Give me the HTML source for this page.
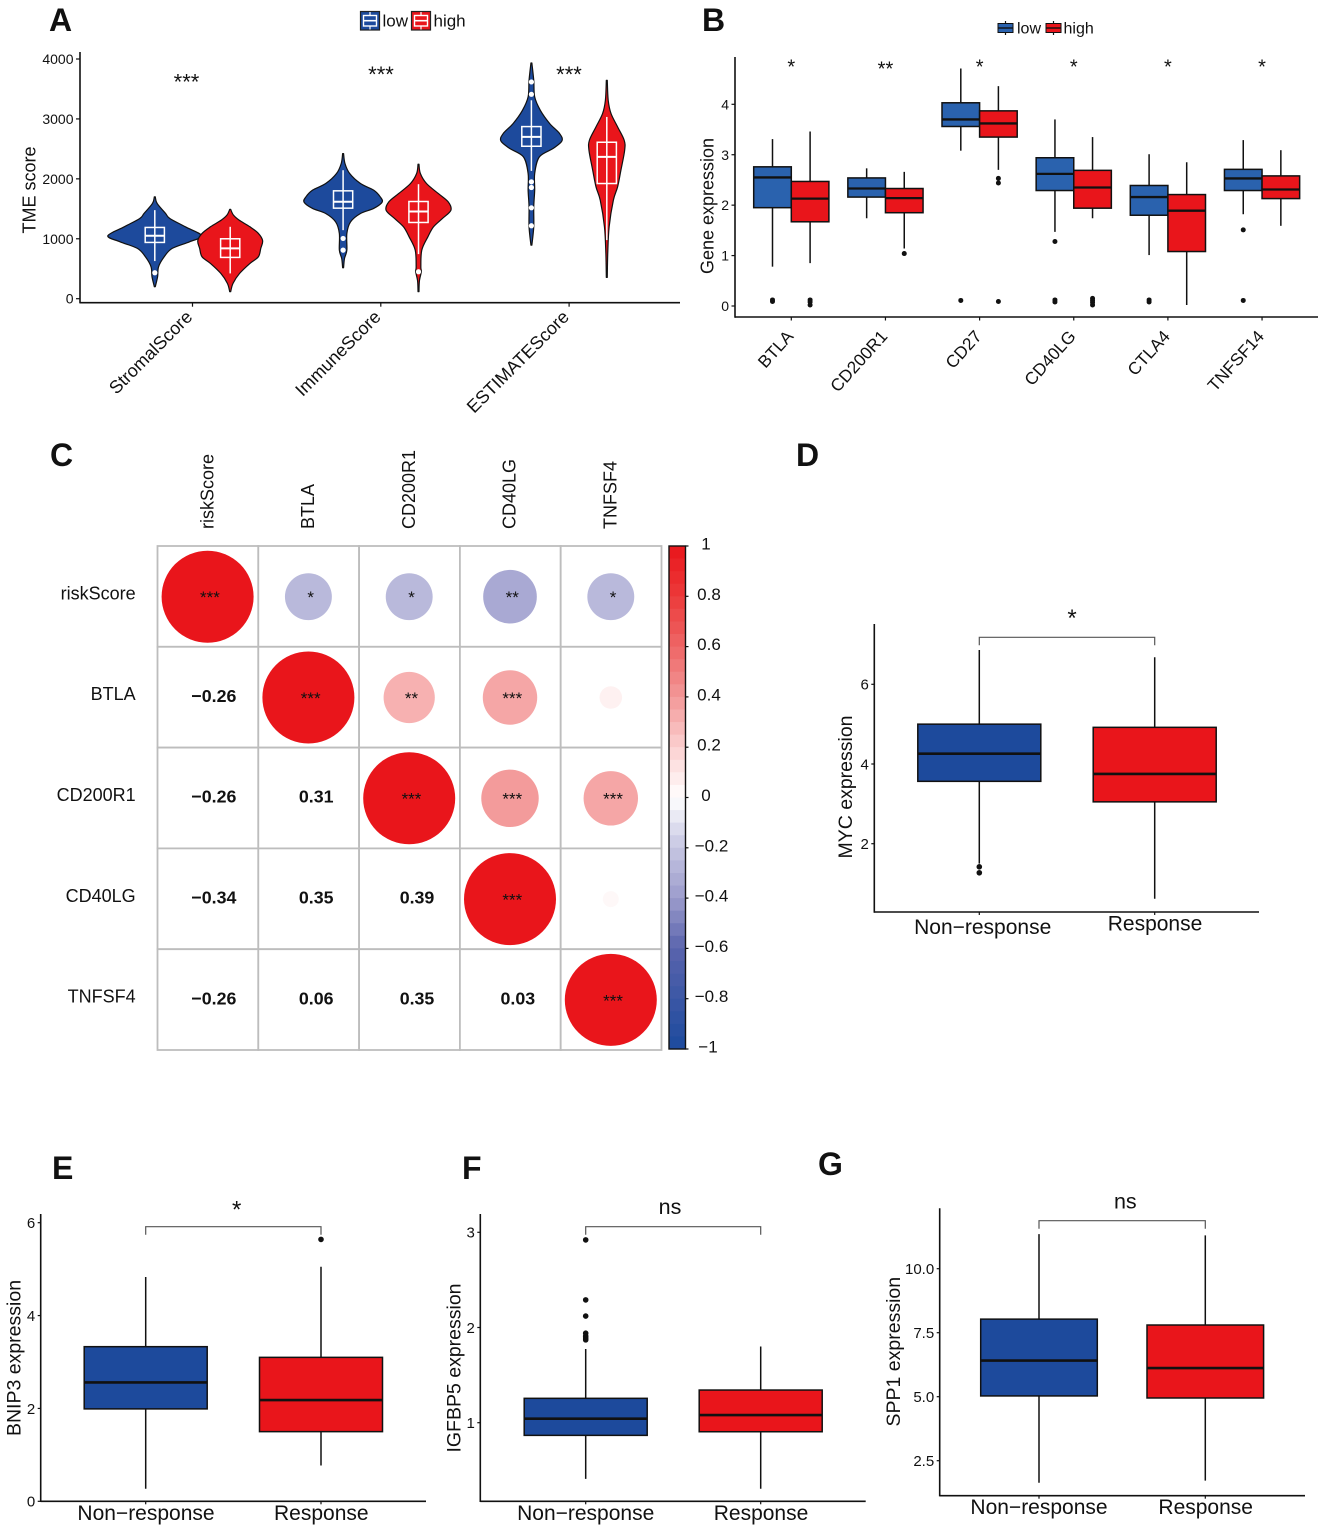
<!DOCTYPE html>
<html lang="en">
<head>
<meta charset="utf-8">
<title>Multi-panel expression figure</title>
<style>
html,body{margin:0;padding:0;background:#fff;}
svg{display:block;font-family:"Liberation Sans",Arial,sans-serif;}
text{fill:#111;}
</style>
</head>
<body>
<svg id="figure" xmlns="http://www.w3.org/2000/svg" width="1325" height="1531" viewBox="0 0 1325 1531">
  <rect width="1325" height="1531" fill="#fff"/>
  <g id="panel-a"></g>
  <g id="panel-b"></g>
  <g id="panel-c"></g>
  <g id="panel-d"></g>
  <g id="panel-e"></g>
  <g id="panel-f"></g>
  <g id="panel-g"></g>
  <text x="49" y="31" font-size="32" font-weight="700">A</text>
  <text x="702" y="31" font-size="32" font-weight="700">B</text>
  <text x="50" y="466" font-size="32" font-weight="700">C</text>
  <text x="796" y="466" font-size="32" font-weight="700">D</text>
  <text x="52" y="1179" font-size="32" font-weight="700">E</text>
  <text x="462" y="1179" font-size="32" font-weight="700">F</text>
  <text x="818" y="1175" font-size="32" font-weight="700">G</text>
</svg>
<script>
/* ---------- Panel A data ---------- */
const tmeCategories = ["StromalScore", "ImmuneScore", "ESTIMATEScore"];
const tmeSignificance = ["***", "***", "***"];
const tmeTicks = [0, 1000, 2000, 3000, 4000];
const tmeTickLabels = ["0", "1000", "2000", "3000", "4000"];
const stromalLowLevels = [1700,1589,1422,1339,1200,1050,950,839,700,533,367,200];
const stromalLowDensity = [.01,.05,.23,.32,.65,1,.74,.37,.2,.08,.06,.01];
const stromalHighLevels = [1490,1394,1311,1200,1089,967,839,700,589,422,256,117];
const stromalHighDensity = [.01,.07,.19,.42,.6,.69,.65,.6,.42,.2,.06,.01];
const immuneLowLevels = [2422,2256,2089,1922,1811,1700,1611,1506,1422,1283,1089,811,672,517];
const immuneLowDensity = [.01,.04,.14,.37,.65,.79,.83,.65,.37,.16,.08,.08,.03,.01];
const immuneHighLevels = [2244,2089,1922,1756,1617,1478,1339,1200,1033,811,533,450,300,117];
const immuneHighDensity = [.01,.04,.17,.42,.63,.69,.51,.32,.2,.07,.05,.06,.02,.01];
const estimateLowLevels = [3933,3644,3367,3144,2922,2756,2633,2506,2367,2089,1811,1533,1200,894];
const estimateLowDensity = [.01,.05,.07,.19,.39,.6,.65,.46,.17,.07,.07,.05,.05,.01];
const estimateHighLevels = [3644,3311,3089,2867,2644,2478,2144,1867,1644,1200,756,356];
const estimateHighDensity = [.01,.03,.09,.23,.37,.38,.3,.23,.14,.05,.02,.01];
const tmeLowQ1 = [939, 1511, 2544];
const tmeLowMedian = [1050, 1617, 2700];
const tmeLowQ3 = [1189, 1800, 2872];
const tmeLowWhiskerLow = [628, 1144, 2133];
const tmeLowWhiskerHigh = [1478, 2144, 3311];
const tmeLowOutliers = [[433], [1006, 811], [3617, 3411, 1950, 1856, 1517, 1217]];
const tmeHighQ1 = [689, 1272, 1922];
const tmeHighMedian = [839, 1456, 2367];
const tmeHighQ3 = [1000, 1622, 2611];
const tmeHighWhiskerLow = [422, 744, 978];
const tmeHighWhiskerHigh = [1200, 1911, 3033];
const tmeHighOutliers = [[], [450], []];

/* ---------- Panel B data ---------- */
const geneCategories = ["BTLA", "CD200R1", "CD27", "CD40LG", "CTLA4", "TNFSF14"];
const geneSignificance = ["*", "**", "*", "*", "*", "*"];
const geneTicks = [0, 1, 2, 3, 4];
const geneTickLabels = ["0", "1", "2", "3", "4"];
const geneLowQ1 = [1.95, 2.16, 3.56, 2.29, 1.80, 2.29];
const geneLowMedian = [2.55, 2.33, 3.70, 2.62, 2.16, 2.53];
const geneLowQ3 = [2.76, 2.54, 4.03, 2.94, 2.39, 2.71];
const geneLowWhiskerLow = [0.78, 1.74, 3.08, 1.47, 1.01, 1.82];
const geneLowWhiskerHigh = [3.31, 2.73, 4.71, 3.70, 3.01, 3.29];
const geneLowOutliers = [[.09,.12], [], [.11], [1.28,.12,.08], [.12,.08], [1.51,.11]];
const geneHighQ1 = [1.67, 1.85, 3.35, 1.94, 1.08, 2.13];
const geneHighMedian = [2.13, 2.14, 3.62, 2.35, 1.89, 2.31];
const geneHighQ3 = [2.47, 2.33, 3.87, 2.69, 2.21, 2.58];
const geneHighWhiskerLow = [0.85, 1.14, 2.70, 1.74, 0.02, 1.59];
const geneHighWhiskerHigh = [3.46, 2.66, 4.36, 3.35, 2.85, 3.09];
const geneHighOutliers = [[.12,.08,.02], [1.04], [2.53,2.44,.09], [.15,.11,.07,.02], [], []];

/* ---------- Panel C data ---------- */
const corrLabels = ["riskScore", "BTLA", "CD200R1", "CD40LG", "TNFSF4"];
const corrRowRisk = [1, -0.26, -0.26, -0.34, -0.26];
const corrRowBtla = [-0.26, 1, 0.31, 0.35, 0.06];
const corrRowCd200 = [-0.26, 0.31, 1, 0.39, 0.35];
const corrRowCd40 = [-0.34, 0.35, 0.39, 1, 0.03];
const corrRowTnfsf = [-0.26, 0.06, 0.35, 0.03, 1];
const corrMatrix = [corrRowRisk, corrRowBtla, corrRowCd200, corrRowCd40, corrRowTnfsf];
const corrStarsRisk = ["***", "*", "*", "**", "*"];
const corrStarsBtla = ["", "***", "**", "***", ""];
const corrStarsCd200 = ["", "", "***", "***", "***"];
const corrStarsCd40 = ["", "", "", "***", ""];
const corrStarsTnfsf = ["", "", "", "", "***"];
const corrStars = [corrStarsRisk, corrStarsBtla, corrStarsCd200, corrStarsCd40, corrStarsTnfsf];
const colorbarTicks = [1, 0.8, 0.6, 0.4, 0.2, 0, -0.2, -0.4, -0.6, -0.8, -1];
const colorbarTickLabels = ["1", "0.8", "0.6", "0.4", "0.2", "0", "\u22120.2", "\u22120.4", "\u22120.6", "\u22120.8", "\u22121"];

/* ---------- Panels D-G data ---------- */
const responseCategories = ["Non\u2212response", "Response"];
const mycTicks = [2, 4, 6];
const mycTickLabels = ["2", "4", "6"];
const mycQ1 = [3.565, 3.05];
const mycMedian = [4.26, 3.75];
const mycQ3 = [5.0, 4.92];
const mycWhiskerLow = [1.5, 0.62];
const mycWhiskerHigh = [6.86, 6.68];
const mycOutliers = [[1.42, 1.27], []];

const bnip3Ticks = [0, 2, 4, 6];
const bnip3TickLabels = ["0", "2", "4", "6"];
const bnip3Q1 = [1.99, 1.50];
const bnip3Median = [2.56, 2.18];
const bnip3Q3 = [3.33, 3.10];
const bnip3WhiskerLow = [0.27, 0.77];
const bnip3WhiskerHigh = [4.83, 5.05];
const bnip3Outliers = [[], [5.64]];

const igfbp5Ticks = [1, 2, 3];
const igfbp5TickLabels = ["1", "2", "3"];
const igfbp5Q1 = [0.867, 0.905];
const igfbp5Median = [1.042, 1.08];
const igfbp5Q3 = [1.256, 1.343];
const igfbp5WhiskerLow = [0.41, 0.306];
const igfbp5WhiskerHigh = [1.774, 1.80];
const igfbp5Outliers = [[2.92, 2.29, 2.12, 1.94, 1.91, 1.89, 1.87], []];

const spp1Ticks = [2.5, 5, 7.5, 10];
const spp1TickLabels = ["2.5", "5.0", "7.5", "10.0"];
const spp1Q1 = [5.03, 4.95];
const spp1Median = [6.41, 6.12];
const spp1Q3 = [8.03, 7.80];
const spp1WhiskerLow = [1.64, 1.72];
const spp1WhiskerHigh = [11.35, 11.3];
const spp1Outliers = [[], []];

/* ---------- Helpers ---------- */
const SVGNS = "http://www.w3.org/2000/svg";
const BLUE = "#1d4a9c", RED = "#e9151b", MIDBLUE = "#2a62ae", INK = "#111";

function mk(parent, tag, attrs) {
  const e = document.createElementNS(SVGNS, tag);
  for (const k in attrs) e.setAttribute(k, attrs[k]);
  parent.appendChild(e);
  return e;
}
function txt(parent, x, y, str, size, anchor, rotate, weight) {
  const attrs = {x: x, y: y, "font-size": size, "text-anchor": anchor || "start"};
  if (rotate) attrs.transform = "rotate(" + rotate + " " + x + " " + y + ")";
  if (weight) attrs["font-weight"] = weight;
  const t = mk(parent, "text", attrs);
  t.textContent = str;
  return t;
}
function linearScale(d0, p0, d1, p1) {
  return function (v) { return p0 + (v - d0) * (p1 - p0) / (d1 - d0); };
}
function seg(parent, x1, y1, x2, y2, stroke, w) {
  return mk(parent, "line", {x1: x1, y1: y1, x2: x2, y2: y2, stroke: stroke, "stroke-width": w});
}
function starText(parent, x, cy, str, size) {
  const t = txt(parent, x, cy + 0.5 * size, str, size, "middle");
  
  
  return t;
}

function drawAxes(g, ax, top, bottom, right, y, ticks, labels, labelSize, tickLen) {
  const yLine = seg(g, ax, top, ax, bottom + 0.7, INK, 1.6);
  
  
  const xLine = seg(g, ax, bottom, right, bottom, INK, 1.6);
  
  
  ticks.forEach(function (v, i) {
    const tk = seg(g, ax - tickLen, y(v), ax, y(v), INK, 1.2);
    
    
    const lb = txt(g, ax - tickLen - 2.5, y(v) + labelSize * 0.36, labels[i], labelSize, "end");
    
    
  });
}
function drawXTick(g, x, bottom, len) {
  const tk = seg(g, x, bottom, x, bottom + len, INK, 1.2);
  
  
}
function drawBox(g, xc, hw, y, q1, med, q3, lo, hi, outliers, fill, lineColor, strokeW, medW, dotR) {
  const box = mk(g, "g", {});
  
  
  const wh = seg(box, xc, y(hi), xc, y(lo), lineColor, strokeW);
  
  
  const r = mk(box, "rect", {x: xc - hw, y: y(q3), width: 2 * hw, height: y(q1) - y(q3), fill: fill, stroke: lineColor, "stroke-width": strokeW});
  
  
  const m = seg(box, xc - hw, y(med), xc + hw, y(med), lineColor, medW);
  
  
  outliers.forEach(function (v) {
    const c = mk(box, "circle", {cx: xc, cy: y(v), r: dotR, fill: lineColor});
    
    
  });
}
function drawBracket(g, x1, x2, y, drop, label, labelX, labelY, isStar) {
  const p = mk(g, "path", {d: "M" + x1 + " " + (y + drop) + "V" + y + "H" + x2 + "V" + (y + drop), fill: "none", stroke: "#555", "stroke-width": 1.2});
  
  
  if (isStar) {
    starText(g, labelX, labelY, label, 24);
  } else {
    const t = txt(g, labelX, labelY, label, 21.5, "middle");
    
    
  }
}
function smoothPoints(pts) {
  let d = "";
  for (let i = 0; i < pts.length - 1; i++) {
    const p0 = pts[Math.max(i - 1, 0)], p1 = pts[i], p2 = pts[i + 1], p3 = pts[Math.min(i + 2, pts.length - 1)];
    d += "C" + (p1[0] + (p2[0] - p0[0]) / 6).toFixed(2) + " " + (p1[1] + (p2[1] - p0[1]) / 6).toFixed(2) + " "
       + (p2[0] - (p3[0] - p1[0]) / 6).toFixed(2) + " " + (p2[1] - (p3[1] - p1[1]) / 6).toFixed(2) + " "
       + p2[0].toFixed(2) + " " + p2[1].toFixed(2);
  }
  return d;
}
function lerpColor(a, b, t) {
  const pa = [parseInt(a.substr(1,2),16), parseInt(a.substr(3,2),16), parseInt(a.substr(5,2),16)];
  const pb = [parseInt(b.substr(1,2),16), parseInt(b.substr(3,2),16), parseInt(b.substr(5,2),16)];
  return "rgb(" + pa.map(function (v, i) { return Math.round(v + (pb[i] - v) * t); }).join(",") + ")";
}
const rampAt = [-1, -0.6, -0.4, -0.2, 0, 0.2, 0.4, 0.6, 0.8, 1];
const rampColor = ["#1c4a9d", "#5a64ad", "#9c9ccc", "#c6c6e2", "#ffffff", "#fbd0d0", "#f39898", "#ee6666", "#ec3a3a", "#e9151b"];
function corrColor(v) {
  for (let i = 0; i < rampAt.length - 1; i++) {
    if (v <= rampAt[i + 1]) return lerpColor(rampColor[i], rampColor[i + 1], (v - rampAt[i]) / (rampAt[i + 1] - rampAt[i]));
  }
  return rampColor[rampColor.length - 1];
}

/* ---------- Panel A ---------- */
(function () {
  const g = document.getElementById("panel-a");
  const y = linearScale(0, 298.7, 4000, 59);
  const xCat = function (i) { return 192.5 + 188.3 * i; };
  const DODGE = 37.7, DENSITY_PX = 47, BOX_HW = 9.6;
  drawAxes(g, 80, 52, 302.7, 680, y, tmeTicks, tmeTickLabels, 14, 4);
  const yt = txt(g, 35.5, 190, "TME score", 18, "middle", -90);
  
  

  const lowLevels = [stromalLowLevels, immuneLowLevels, estimateLowLevels];
  const lowDensity = [stromalLowDensity, immuneLowDensity, estimateLowDensity];
  const highLevels = [stromalHighLevels, immuneHighLevels, estimateHighLevels];
  const highDensity = [stromalHighDensity, immuneHighDensity, estimateHighDensity];

  function violin(xc, levels, density, fill) {
    const right = levels.map(function (v, i) { return [xc + density[i] * DENSITY_PX, y(v)]; });
    const left = levels.map(function (v, i) { return [xc - density[i] * DENSITY_PX, y(v)]; }).reverse();
    const d = "M" + right[0][0] + " " + right[0][1] + smoothPoints(right) + "L" + left[0][0] + " " + left[0][1] + smoothPoints(left) + "Z";
    const p = mk(g, "path", {d: d, fill: fill, stroke: "#111", "stroke-width": 1.2, "stroke-linejoin": "round"});
    
    
  }
  tmeCategories.forEach(function (name, i) {
    violin(xCat(i) - DODGE, lowLevels[i], lowDensity[i], BLUE);
    violin(xCat(i) + DODGE, highLevels[i], highDensity[i], RED);
  });
  tmeCategories.forEach(function (name, i) {
    drawBox(g, xCat(i) - DODGE, BOX_HW, y, tmeLowQ1[i], tmeLowMedian[i], tmeLowQ3[i], tmeLowWhiskerLow[i], tmeLowWhiskerHigh[i], tmeLowOutliers[i], "none", "#fff", 1.5, 2, 2.6);
    drawBox(g, xCat(i) + DODGE, BOX_HW, y, tmeHighQ1[i], tmeHighMedian[i], tmeHighQ3[i], tmeHighWhiskerLow[i], tmeHighWhiskerHigh[i], tmeHighOutliers[i], "none", "#fff", 1.5, 2, 2.6);
    drawXTick(g, xCat(i), 302.7, 4);
    const lb = txt(g, xCat(i) + 1, 318, name, 18, "end", -45);
    
    
  });
  const starY = [78.6, 71, 71];
  const starX = [186.5, 381, 569];
  tmeSignificance.forEach(function (s, i) { starText(g, starX[i], starY[i], s, 22); });

  function legendKey(x, fill, label, labelX) {
    const k = mk(g, "rect", {x: x, y: 11.5, width: 19, height: 18.5, fill: fill, stroke: "#222", "stroke-width": 1.2});
    
    
    const wk = seg(g, x + 9.5, 12, x + 9.5, 29.5, "#fff", 1.2);
    
    
    const bx = mk(g, "rect", {x: x + 3, y: 15.5, width: 13, height: 10.5, fill: fill, stroke: "#fff", "stroke-width": 1.4});
    
    
    const md = seg(g, x + 3, 20.7, x + 16, 20.7, "#fff", 1.6);
    
    
    const lt = txt(g, labelX, 26.5, label, 17);
    
    
  }
  legendKey(360.5, BLUE, "low", 382.5);
  legendKey(411.5, RED, "high", 433.5);
})();

/* ---------- Panel B ---------- */
(function () {
  const g = document.getElementById("panel-b");
  const y = linearScale(0, 306, 4, 104.3);
  const xCat = function (i) { return 791.3 + 94.15 * i; };
  const DODGE = 18.8, HW = 18.8;
  drawAxes(g, 735, 57, 317, 1318, y, geneTicks, geneTickLabels, 14, 3.5);
  const yt = txt(g, 713.5, 206, "Gene expression", 18, "middle", -90);
  
  
  geneCategories.forEach(function (name, i) {
    drawBox(g, xCat(i) - DODGE, HW, y, geneLowQ1[i], geneLowMedian[i], geneLowQ3[i], geneLowWhiskerLow[i], geneLowWhiskerHigh[i], geneLowOutliers[i], MIDBLUE, INK, 1.5, 2.3, 2.5);
    drawBox(g, xCat(i) + DODGE, HW, y, geneHighQ1[i], geneHighMedian[i], geneHighQ3[i], geneHighWhiskerLow[i], geneHighWhiskerHigh[i], geneHighOutliers[i], RED, INK, 1.5, 2.3, 2.5);
    drawXTick(g, xCat(i), 317, 3.5);
    const lb = txt(g, xCat(i) + 3, 337, name, 17.2, "end", -48);
    
    
    starText(g, xCat(i), geneSignificance[i].length > 1 ? 65.5 : 63.5, geneSignificance[i], 20);
  });
  function legendKey(x, fill, label, labelX) {
    const st = seg(g, x + 7.5, 21, x + 7.5, 35, INK, 1.2);
    
    
    const k = mk(g, "rect", {x: x, y: 23.5, width: 15, height: 9, fill: fill, stroke: INK, "stroke-width": 1});
    
    
    const md = seg(g, x, 28, x + 15, 28, INK, 1.4);
    
    
    const lt = txt(g, labelX, 33.5, label, 16);
    
    
  }
  legendKey(998, MIDBLUE, "low", 1017);
  legendKey(1046, RED, "high", 1063.5);
})();

/* ---------- Panel C ---------- */
(function () {
  const g = document.getElementById("panel-c");
  const X0 = 157.5, Y0 = 546, CELL = 100.8, RMAX = 46;
  const cx = function (j) { return X0 + CELL * (j + 0.5); };
  const cy = function (i) { return Y0 + CELL * (i + 0.5); };
  corrLabels.forEach(function (lab, i) {
    const top = txt(g, cx(i) + 5.4, 529, lab, 18, "start", -90);
    
    
    const left = txt(g, 135.7, cy(i) + 3, lab, 18, "end");
    
    
  });
  corrMatrix.forEach(function (row, i) {
    row.forEach(function (v, j) {
      const cell = mk(g, "rect", {x: X0 + CELL * j, y: Y0 + CELL * i, width: CELL, height: CELL, fill: "#fff", stroke: "#bdbdbd", "stroke-width": 1.8});
      
      
    });
  });
  corrMatrix.forEach(function (row, i) {
    row.forEach(function (v, j) {
      if (j >= i) {
        const c = mk(g, "circle", {cx: cx(j) - 0.3, cy: cy(i) + 0.3, r: RMAX * Math.sqrt(Math.abs(v)), fill: corrColor(v)});
        
        
        if (corrStars[i][j]) starText(g, cx(j) + 2, cy(i) - 1.8, corrStars[i][j], 17);
      } else {
        const label = (v < 0 ? "\u2212" + (-v).toFixed(2) : v.toFixed(2));
        const t = txt(g, cx(j) + (v < 0 ? 6 : 7.5), cy(i) + 4.7, label, 17.8, "middle", 0, 700);
        
        
      }
    });
  });
  const BX = 669, BW = 16.5, BTOP = 546, BBOT = 1049;
  const cbY = linearScale(1, BTOP, -1, BBOT);
  const STEPS = 40;
  for (let s = 0; s < STEPS; s++) {
    const vTop = 1 - 2 * s / STEPS, vBot = 1 - 2 * (s + 1) / STEPS;
    const r = mk(g, "rect", {x: BX, y: cbY(vTop), width: BW, height: cbY(vBot) - cbY(vTop) + 0.4, fill: corrColor((vTop + vBot) / 2)});
    
    
  }
  const frame = mk(g, "rect", {x: BX, y: BTOP, width: BW, height: BBOT - BTOP, fill: "none", stroke: "#111", "stroke-width": 1.4});
  
  
  colorbarTicks.forEach(function (v, i) {
    const tk = seg(g, BX + BW, cbY(v), BX + BW + 3, cbY(v), INK, 1.2);
    
    
    const s = colorbarTickLabels[i];
    const lx = s.length === 1 ? 706 : (s.length === 3 ? 709 : (s.length === 2 ? 708 : 711.5));
    const lb = txt(g, lx, cbY(v) + 3.5, s, 17, "middle");
    
    
  });
})();

/* ---------- Panels D-G ---------- */
function responsePanel(id, cfg) {
  const g = document.getElementById(id);
  const y = linearScale(cfg.d0, cfg.p0, cfg.d1, cfg.p1);
  drawAxes(g, cfg.ax, cfg.top, cfg.bottom, cfg.right, y, cfg.ticks, cfg.tickLabels, 15, 3);
  const yt = txt(g, cfg.titleX, cfg.titleY, cfg.title, 19.5, "middle", -90);
  
  
  responseCategories.forEach(function (name, i) {
    drawBox(g, cfg.xs[i], cfg.hw, y, cfg.q1[i], cfg.med[i], cfg.q3[i], cfg.lo[i], cfg.hi[i], cfg.out[i], i === 0 ? BLUE : RED, INK, 1.5, 2.6, 2.8);
    drawXTick(g, cfg.xs[i], cfg.bottom, 3);
    const lb = txt(g, cfg.labelX[i], cfg.labelY[i], name, 21, "middle");
    
    
  });
  drawBracket(g, cfg.xs[0], cfg.xs[1], cfg.brY, 8, cfg.sig, cfg.sigX, cfg.sigY, cfg.sig !== "ns");
}
responsePanel("panel-d", {
  d0: 2, p0: 843.7, d1: 6, p1: 684.3, ax: 874.3, top: 624, bottom: 912, right: 1259,
  ticks: mycTicks, tickLabels: mycTickLabels, title: "MYC expression", titleX: 852, titleY: 787,
  xs: [979.3, 1154.7], hw: 61.5, q1: mycQ1, med: mycMedian, q3: mycQ3, lo: mycWhiskerLow, hi: mycWhiskerHigh, out: mycOutliers,
  labelX: [982.7, 1155], labelY: [934, 930.7], brY: 637.3, sig: "*", sigX: 1072, sigY: 614
});
responsePanel("panel-e", {
  d0: 0, p0: 1501.3, d1: 6, p1: 1222.7, ax: 40.7, top: 1214, bottom: 1501.3, right: 426,
  ticks: bnip3Ticks, tickLabels: bnip3TickLabels, title: "BNIP3 expression", titleX: 20.7, titleY: 1358,
  xs: [145.7, 321], hw: 61.5, q1: bnip3Q1, med: bnip3Median, q3: bnip3Q3, lo: bnip3WhiskerLow, hi: bnip3WhiskerHigh, out: bnip3Outliers,
  labelX: [146, 321.3], labelY: [1520, 1520], brY: 1226.7, sig: "*", sigX: 236.7, sigY: 1205.7
});
responsePanel("panel-f", {
  d0: 1, p0: 1422.7, d1: 3, p1: 1232.3, ax: 480.3, top: 1214, bottom: 1501.3, right: 865.7,
  ticks: igfbp5Ticks, tickLabels: igfbp5TickLabels, title: "IGFBP5 expression", titleX: 460.7, titleY: 1368,
  xs: [585.7, 760.7], hw: 61.5, q1: igfbp5Q1, med: igfbp5Median, q3: igfbp5Q3, lo: igfbp5WhiskerLow, hi: igfbp5WhiskerHigh, out: igfbp5Outliers,
  labelX: [585.7, 761], labelY: [1520, 1520], brY: 1226.7, sig: "ns", sigX: 670, sigY: 1214
});
responsePanel("panel-g", {
  d0: 5, p0: 1396.7, d1: 10, p1: 1268.7, ax: 939.7, top: 1208.3, bottom: 1495.7, right: 1305,
  ticks: spp1Ticks, tickLabels: spp1TickLabels, title: "SPP1 expression", titleX: 900, titleY: 1351.7,
  xs: [1039, 1205.3], hw: 58.3, q1: spp1Q1, med: spp1Median, q3: spp1Q3, lo: spp1WhiskerLow, hi: spp1WhiskerHigh, out: spp1Outliers,
  labelX: [1039, 1205.7], labelY: [1514, 1514], brY: 1220.7, sig: "ns", sigX: 1125.3, sigY: 1208.3
});
</script>
</body>
</html>
